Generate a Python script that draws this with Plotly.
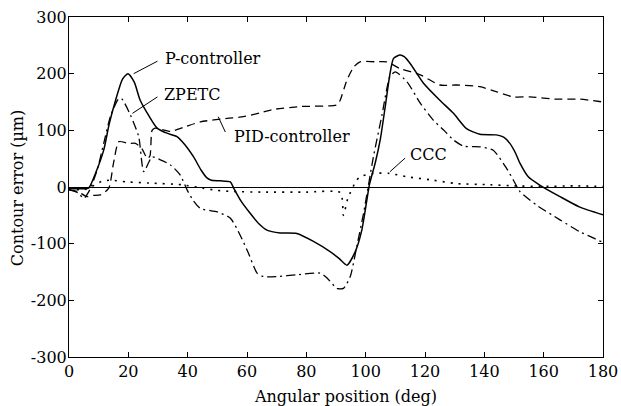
import plotly.graph_objects as go

# ---- data ----
p_x = [0, 4, 6.6, 9, 11.7, 13.5, 15.7, 18, 19.9, 22, 24, 27, 29.7, 33, 36.4, 39, 42, 44.5, 46.5,
       48, 51, 54.4, 55.5, 58, 61, 64, 66.7, 71.2, 76.8, 82.4, 88, 91, 93.7, 96.5, 98.7, 100.4,
       101.3, 103.2, 104.9, 106.6, 108.2, 109.4, 111.6, 113, 115, 119.5, 125, 129.6, 134, 138.5,
       144, 146.5, 148.6, 150.5, 152, 154.8, 158.8, 165.5, 172, 180]
p_y = [-3, -3, -2, 25, 65, 110, 153, 190, 200, 185, 153, 125, 104, 95, 89, 75, 53, 30, 16,
       12, 11, 9, -2, -25, -46, -65, -76, -81, -82, -96, -114, -126, -138, -114, -76, -23,
       5, 42, 83, 142, 200, 227, 233, 230, 218, 183, 153, 130, 103, 93,
       92, 88, 77, 60, 42, 18, 3, -17, -35, -49]

z_x = [0, 3, 5, 7, 9.5, 11.7, 14, 16.8, 17.9, 20.7, 23.5, 25.2, 28, 30.8, 34.2, 37.5, 39.8, 42,
       44.3, 50, 54.4, 57.7, 60.5, 63.4, 65.6, 70, 76.8, 84.7, 86.9, 90.3, 92.5, 94.8, 97, 99.3,
       102.6, 105.5, 108.2, 110, 113.9, 118.4, 122.8, 126.2, 129.6, 133, 138.5, 143, 147.5,
       149.8, 152, 157.6, 165.5, 172.2, 176, 179.5, 180]
z_y = [-5, -10, -20, -5, 30, 77, 125, 156, 155, 127, 89, 27, 53, 48, 39, 21, -5, -25,
       -38, -44, -55, -85, -117, -152, -158, -158, -155, -152, -160, -179, -179, -158, -105, -46,
       53, 127, 195, 203, 186, 148, 118, 101, 83, 72, 71, 65, 33,
       12, -8, -32, -58, -79, -88, -96, -90]

pid_x = [0, 3, 6, 8, 10.6, 13.4, 15, 16.8, 20, 22.4, 24.5, 26.5, 27.3, 28, 29, 34.2, 39, 44.3,
         53.3, 58.8, 64.5, 69, 78, 90.3, 91.4, 93.7, 96, 98.1, 103, 107, 111.6, 118.4, 125,
         130.7, 138.5, 144.2, 149.8, 155.4, 164.4, 172.2, 180]
pid_y = [-5, -8, -17, -15, -14, -2, 42, 80, 77, 77, 68, 50, 55, 100, 104, 98, 106, 115,
         121, 124, 131, 137, 142, 145, 153, 189, 212, 221, 221, 221, 209, 198, 180,
         180, 177, 168, 159, 159, 155, 155, 150]

c_x = [0, 5, 8.9, 11, 14, 19.6, 27, 38, 45, 50, 55.5, 65, 80, 91.5, 92.5, 94, 96.5, 98,
       102.6, 108, 113.9, 122.8, 130.7, 141.9, 150, 160, 170, 180]
c_y = [-3, -5, 4, 10, 12, 9, 7, 4, -2, -6, -8, -9, -9, -10, -50, -20, 8, 18,
       24, 24, 18, 12, 6, 4, 2, 1, 2, 1]

x_ticks = [0, 20, 40, 60, 80, 100, 120, 140, 160, 180]
y_ticks = [-300, -200, -100, 0, 100, 200, 300]

x_title = "Angular position (deg)"
y_title = "Contour error (µm)"

# label text, label anchor (data), leader line start/end (data)
labels = ["P-controller", "ZPETC", "PID-controller", "CCC"]
label_pos = [(31.8, 226), (31.5, 164), (55.0, 89), (114.3, 58)]
leaders = [((29.8, 222), (21.8, 200)), ((29.8, 159), (21.4, 130)),
           ((52.7, 97), (50.3, 124)), ((113.3, 51), (108.2, 27))]

FONT = "DejaVu Serif"
FS = 16

fig = go.Figure()
fig.add_trace(go.Scatter(x=p_x, y=p_y, mode="lines", line=dict(color="black", width=1.5),
                         line_shape="spline", line_smoothing=0.6, name="P-controller"))
fig.add_trace(go.Scatter(x=z_x, y=z_y, mode="lines",
                         line=dict(color="black", width=1.3, dash="9px,4px,2px,4px"),
                         line_shape="spline", line_smoothing=0.6, name="ZPETC"))
fig.add_trace(go.Scatter(x=pid_x, y=pid_y, mode="lines",
                         line=dict(color="black", width=1.3, dash="8px,5px"),
                         line_shape="spline", line_smoothing=0.6, name="PID-controller"))
fig.add_trace(go.Scatter(x=c_x, y=c_y, mode="lines",
                         line=dict(color="black", width=1.6, dash="2px,6px"),
                         line_shape="spline", line_smoothing=0.6, name="CCC"))

for (t, (lx, ly), ((x0, y0), (x1, y1))) in zip(labels, label_pos, leaders):
    fig.add_annotation(x=lx, y=ly, text=t, showarrow=False, xanchor="left", yanchor="middle",
                       font=dict(family=FONT, size=FS, color="black"))
    fig.add_shape(type="line", x0=x0, y0=y0, x1=x1, y1=y1,
                  line=dict(color="black", width=1))

# axis titles placed as paper-anchored text
fig.add_annotation(x=0.517, y=-0.117, xref="paper", yref="paper", text=x_title,
                   showarrow=False, xanchor="center", yanchor="middle",
                   font=dict(family=FONT, size=FS, color="black"))
fig.add_annotation(x=-0.097, y=0.497, xref="paper", yref="paper", text=y_title,
                   showarrow=False, xanchor="center", yanchor="middle", textangle=-90,
                   font=dict(family=FONT, size=FS, color="black"))

axis_common = dict(showline=True, linecolor="black", linewidth=1, mirror="ticks",
                   ticks="inside", ticklen=5, tickcolor="black", showgrid=False,
                   automargin=False,
                   tickfont=dict(family=FONT, size=FS, color="black"))

fig.update_xaxes(range=[0, 180], tickvals=x_ticks, ticktext=[str(v) for v in x_ticks],
                 zeroline=False, **axis_common)
fig.update_yaxes(range=[-300, 300], tickvals=y_ticks, ticktext=[str(v) for v in y_ticks],
                 zeroline=True, zerolinecolor="black", zerolinewidth=1,
                 ticklabelstandoff=-2, **axis_common)

fig.update_layout(width=621, height=406, margin=dict(l=69, r=18, t=17, b=49),
                  paper_bgcolor="white", plot_bgcolor="white", showlegend=False,
                  font=dict(family=FONT, size=FS, color="black"))

fig.write_html("out.html")
